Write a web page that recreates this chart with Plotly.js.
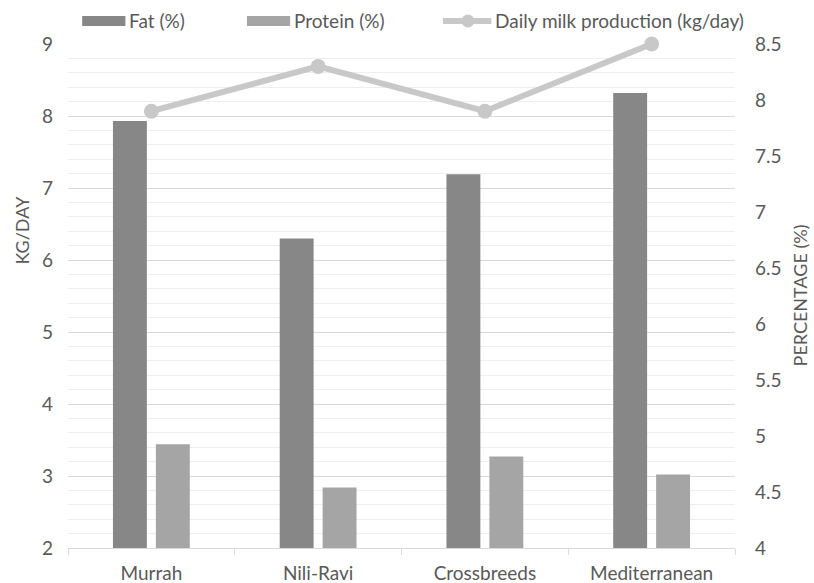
<!DOCTYPE html>
<html>
<head>
<meta charset="utf-8">
<script src="https://cdn.plot.ly/plotly-3.0.1.min.js"></script>
<style>html,body{margin:0;padding:0;background:#fff;}#chart{width:814px;height:583px;}</style>
</head>
<body>
<div id="chart"></div>
<script>
var breeds = ["Murrah", "Nili-Ravi", "Crossbreeds", "Mediterranean"];
var fatPct = [7.93, 6.30, 7.19, 8.32];
var proteinPct = [3.44, 2.84, 3.27, 3.02];
var dailyMilk = [7.9, 8.3, 7.9, 8.5];
var seriesNames = ["Fat (%)", "Protein (%)", "Daily milk production (kg/day)"];
var leftTicks = [2, 3, 4, 5, 6, 7, 8, 9];
var rightTicks = [4, 4.5, 5, 5.5, 6, 6.5, 7, 7.5, 8, 8.5];

var colFat = "#878787", colProt = "#a5a5a5", colLine = "#c8c8c8";
var FONT = "Lato, 'Open Sans', sans-serif";
var txt = "#595959";
var FS = 19;

var W = 814, H = 583, L = 67.5, R = 735.5, T = 44, B = 548;
function px(x){ return (x - L) / (R - L); }
function py(y){ return (B - y) / (B - T); }

var traces = [
  {type: "bar", name: seriesNames[0], x: breeds, y: fatPct, marker: {color: colFat}, yaxis: "y", showlegend: false},
  {type: "bar", name: seriesNames[1], x: breeds, y: proteinPct, marker: {color: colProt}, yaxis: "y", showlegend: false},
  {type: "scatter", mode: "lines+markers", name: seriesNames[2], x: breeds, y: dailyMilk, yaxis: "y2", cliponaxis: false,
   line: {color: colLine, width: 6}, marker: {color: colLine, size: 15}, showlegend: false}
];

var shapes = [
  {type: "rect", xref: "paper", yref: "paper", x0: px(81.7), x1: px(125), y0: py(26), y1: py(16), fillcolor: colFat, line: {width: 0}},
  {type: "rect", xref: "paper", yref: "paper", x0: px(246.7), x1: px(290), y0: py(26), y1: py(16), fillcolor: colProt, line: {width: 0}},
  {type: "line", xref: "paper", yref: "paper", x0: px(443), x1: px(491.5), y0: py(21), y1: py(21), line: {color: colLine, width: 6}},
  {type: "circle", xref: "paper", yref: "paper", x0: px(461.5), x1: px(474.5), y0: py(27.5), y1: py(14.5), fillcolor: colLine, line: {width: 0}}
];

var annotations = [
  {xref: "paper", yref: "paper", x: px(127), y: py(21), xanchor: "left", yanchor: "middle", text: seriesNames[0], showarrow: false, font: {family: FONT, size: FS, color: txt}},
  {xref: "paper", yref: "paper", x: px(292), y: py(21), xanchor: "left", yanchor: "middle", text: seriesNames[1], showarrow: false, font: {family: FONT, size: FS, color: txt}},
  {xref: "paper", yref: "paper", x: px(493), y: py(21), xanchor: "left", yanchor: "middle", text: seriesNames[2], showarrow: false, font: {family: FONT, size: FS, color: txt}},
  {xref: "paper", yref: "paper", x: px(21), y: py(230), xanchor: "center", yanchor: "middle", textangle: -90, text: "KG/DAY", showarrow: false, font: {family: FONT, size: 18, color: txt}},
  {xref: "paper", yref: "paper", x: px(801), y: py(295), xanchor: "center", yanchor: "middle", textangle: -90, text: "PERCENTAGE (%)", showarrow: false, font: {family: FONT, size: 18, color: txt}}
];

var layout = {
  width: W, height: H,
  margin: {l: L, r: W - R, t: T, b: H - B, pad: 0},
  paper_bgcolor: "#fff", plot_bgcolor: "#fff",
  barmode: "group", bargap: 0.485, bargroupgap: 0.21,
  showlegend: false,
  font: {family: FONT, size: FS, color: txt},
  xaxis: {
    type: "category", tickson: "boundaries", ticks: "outside", ticklen: 6, tickcolor: "#d9d9d9",
    showline: true, linecolor: "#d9d9d9", linewidth: 1, showgrid: false, zeroline: false,
    tickfont: {family: FONT, size: FS, color: txt}, ticklabelstandoff: 8
  },
  yaxis: {
    range: [2, 9], tickvals: leftTicks, ticks: "", showline: false, zeroline: false,
    showgrid: true, gridcolor: "#d9d9d9", gridwidth: 1,
    minor: {dtick: 0.2, showgrid: true, gridcolor: "#eeeeee", gridwidth: 1, ticks: ""},
    tickfont: {family: FONT, size: FS, color: txt}, ticklabelstandoff: 14
  },
  yaxis2: {
    range: [4, 8.5], tickvals: rightTicks, overlaying: "y", side: "right", showgrid: false, zeroline: false,
    showline: false, ticks: "", tickfont: {family: FONT, size: FS, color: txt}, ticklabelstandoff: 19
  },
  shapes: shapes,
  annotations: annotations
};

Plotly.newPlot("chart", traces, layout, {staticPlot: true, displayModeBar: false});
</script>
</body>
</html>
